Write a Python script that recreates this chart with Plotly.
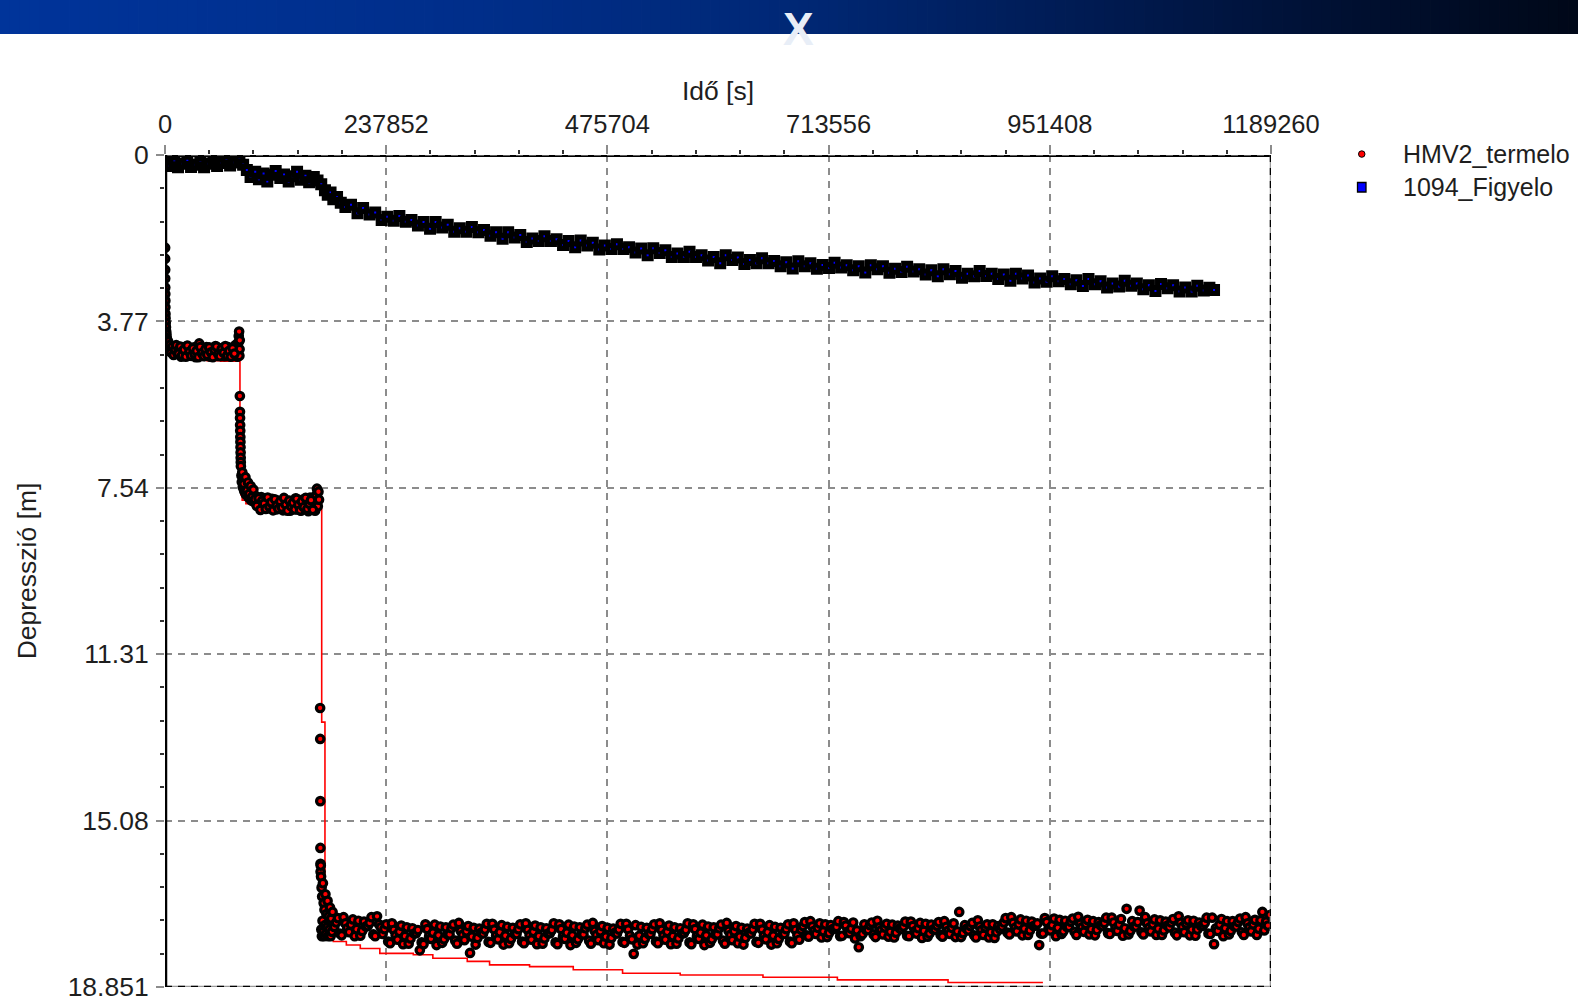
import plotly.graph_objects as go

# ---------------- axes ----------------
X_MAX = 1189260
Y_MAX = 18.851
x_tick_vals = [0, 237852, 475704, 713556, 951408, 1189260]
y_tick_vals = [0, 3.77, 7.54, 11.31, 15.08, 18.851]
y_tick_text = ["0", "3.77", "7.54", "11.31", "15.08", "18.851"]
series_names = ["HMV2_termelo", "1094_Figyelo"]

# ---------------- 1094_Figyelo (observation well) ----------------
# time in ks, drawdown in m
obs_t_ks = [
    0, 0.3, 0.8, 1.5, 3,
    5, 10, 14, 19, 24, 28, 33, 38, 42, 47, 52, 56, 61, 66, 70, 75, 80, 84,
    88, 92, 97, 101, 106, 110, 115, 119, 124, 128, 133, 137, 142, 146, 151, 155, 160, 164, 168,
    172, 175, 178, 181, 185, 189,
    194, 200, 207, 213, 220, 226, 233, 239, 246, 252, 259, 265, 272, 278, 285, 291,
    298, 304, 311, 317, 324, 330, 337, 343, 350, 356, 363, 369, 376, 382, 389, 395,
    402, 408, 415, 421, 428, 434, 441, 447, 454, 460, 467, 473, 480, 486, 493, 499,
    506, 512, 519, 525, 532, 538, 545, 551, 558, 564, 571, 577, 584, 590, 597,
    603, 610, 616, 623, 629, 636, 642, 649, 655, 662, 668, 675, 681, 688, 694, 701,
    707, 714, 720, 727, 733, 740, 746, 753, 759, 766, 772, 779, 785, 792, 798,
    805, 811, 818, 824, 831, 837, 844, 850, 857, 863, 870, 876, 883, 889, 896,
    902, 909, 915, 922, 928, 935, 941, 948, 954, 961, 967, 974, 980, 987, 993,
    1000, 1006, 1013, 1019, 1026, 1032, 1039, 1045, 1052, 1058, 1065, 1071, 1078,
    1084, 1091, 1097, 1104, 1110, 1117, 1123, 1128,
]
obs_depth = [
    0.00, 0.06, 0.12, 0.16, 0.18,
    0.25, 0.15, 0.28, 0.20, 0.13, 0.27, 0.22, 0.16, 0.28, 0.20, 0.14, 0.25, 0.18, 0.12, 0.24, 0.17, 0.11, 0.22,
    0.34, 0.50, 0.38, 0.55, 0.42, 0.60, 0.45, 0.36, 0.52, 0.44, 0.60, 0.48, 0.38, 0.56, 0.47, 0.62, 0.50, 0.58, 0.66,
    0.80, 0.90, 0.85, 1.00, 0.95, 1.08,
    1.18, 1.13, 1.32, 1.20, 1.35, 1.30, 1.47, 1.40, 1.49, 1.38, 1.51, 1.47, 1.60, 1.52, 1.67, 1.52,
    1.64, 1.58, 1.74, 1.66, 1.74, 1.63, 1.75, 1.70, 1.83, 1.75, 1.90, 1.75, 1.87, 1.81, 1.97, 1.89,
    1.95, 1.84, 1.95, 1.91, 2.04, 1.95, 2.09, 1.94, 2.05, 1.99, 2.14, 2.05, 2.13, 2.02, 2.13, 2.09,
    2.21, 2.12, 2.27, 2.11, 2.22, 2.16, 2.31, 2.23, 2.31, 2.19, 2.31, 2.27, 2.39, 2.31, 2.45,
    2.27, 2.38, 2.32, 2.47, 2.38, 2.45, 2.34, 2.45, 2.40, 2.52, 2.43, 2.57, 2.41, 2.52, 2.45, 2.58,
    2.49, 2.56, 2.44, 2.55, 2.50, 2.61, 2.52, 2.66, 2.50, 2.59, 2.52, 2.67, 2.58, 2.65, 2.53,
    2.64, 2.59, 2.71, 2.61, 2.75, 2.59, 2.70, 2.63, 2.78, 2.69, 2.75, 2.63, 2.74, 2.69, 2.81,
    2.71, 2.85, 2.69, 2.80, 2.73, 2.89, 2.80, 2.87, 2.75, 2.86, 2.81, 2.93, 2.84, 2.97, 2.81,
    2.93, 2.86, 3.00, 2.91, 2.98, 2.85, 2.96, 2.91, 3.04, 2.95, 3.08, 2.92, 3.02,
    2.95, 3.09, 3.00, 3.09, 2.96, 3.07, 3.01, 3.06,
]

# ---------------- HMV2_termelo (pumped well) ----------------
# stage 1 pumping rate
prod_t_stage1 = [
    0.12, 0.15, 0.18, 0.20, 0.25, 0.30, 0.35, 0.40, 0.50, 0.60, 0.80,
    1.0, 1.3, 1.6, 2.0, 2.5, 3.0,
    3.4, 4.4, 5.3, 6.3, 7.8, 9.2, 10.7, 12.1, 13.6,
    15.5, 17.4, 19.4, 21.3, 23.3, 25.2, 27.1, 29.1, 31.0, 32.9, 34.9, 36.8, 38.8, 40.7, 42.6, 44.6,
    46.5, 48.5, 50.4, 52.3, 54.3, 56.2, 58.1, 60.1, 62.0, 64.0, 65.9, 67.8, 69.8, 71.7, 73.6, 75.6,
    77.0, 78.0, 78.7, 79.3, 79.7, 80.0, 80.2, 80.4,
    14.6, 16.5, 18.4, 20.4, 22.3, 24.2, 26.2, 28.1, 30.0, 32.0, 33.9, 35.8, 37.8, 39.7, 41.7, 43.6,
    45.5, 47.5, 49.4, 51.4, 53.3, 55.2, 57.2, 59.1, 61.0, 63.0, 64.9, 66.8, 68.8, 70.7, 72.7, 74.6,
]
prod_d_stage1 = [
    2.1, 2.35, 2.6, 2.8, 3.0, 3.15, 3.3, 3.45, 3.6, 3.7, 3.8,
    3.9, 4.0, 4.07, 4.15, 4.2, 4.24,
    4.23, 4.40, 4.30, 4.47, 4.35, 4.53, 4.41, 4.31, 4.50,
    4.42, 4.57, 4.37, 4.48, 4.33, 4.55, 4.43, 4.50, 4.36, 4.58, 4.45, 4.27, 4.52, 4.40, 4.55, 4.35,
    4.47, 4.57, 4.39, 4.50, 4.33, 4.55, 4.42, 4.51, 4.37, 4.56, 4.45, 4.35, 4.53, 4.40, 4.55, 4.31,
    4.47, 4.57, 4.25, 4.10, 4.00, 4.55, 4.40, 4.20,
    4.50, 4.34, 4.54, 4.41, 4.57, 4.32, 4.46, 4.55, 4.38, 4.52, 4.44, 4.58, 4.35, 4.49, 4.56, 4.40,
    4.53, 4.36, 4.47, 4.58, 4.42, 4.34, 4.51, 4.56, 4.39, 4.48, 4.33, 4.55, 4.44, 4.57, 4.38, 4.50,
]

# stage 2 pumping rate
prod_t_stage2 = [
    80.5, 80.6, 80.7, 80.8, 80.9, 81.0, 81.1, 81.2, 81.3, 81.4, 81.5, 81.6,
    82.2, 82.6, 83.1, 83.6, 84.1, 85.1, 86.0, 87.0, 88.5, 89.9, 91.4, 92.9, 94.3, 95.8,
    97.7, 99.6, 101.6, 103.5, 105.5, 107.4, 109.4, 111.3, 113.2, 115.2, 117.1, 119.1, 121.0,
    123.0, 124.9, 126.9, 128.8, 130.7, 132.7, 134.6, 136.6, 138.5, 140.5, 142.4, 144.3, 146.3,
    148.2, 150.2, 152.1, 154.1, 156.0, 158.0, 159.9,
    161.4, 162.4, 163.4, 164.3, 165.0, 165.6,
    84.6, 86.5, 88.0, 89.2, 90.6, 92.1, 93.6, 95.0, 96.7,
    98.7, 100.6, 102.6, 104.5, 106.5, 108.4, 110.4, 112.3, 114.2, 116.2, 118.1, 120.1, 122.0,
    124.0, 125.9, 127.9, 129.8, 131.7, 133.7, 135.6, 137.6, 139.5, 141.5, 143.4, 145.3, 147.3,
    149.2, 151.2, 153.1, 155.1, 157.0, 159.0,
]
prod_d_stage2 = [
    5.46, 5.82, 5.96, 6.12, 6.25, 6.39, 6.50, 6.62, 6.74, 6.86, 6.96, 7.05,
    7.26, 7.41, 7.19, 7.53, 7.36, 7.61, 7.46, 7.69, 7.53, 7.76, 7.61, 7.83, 7.69, 7.86,
    7.73, 7.93, 7.79, 7.75, 7.96, 7.81, 7.99, 7.86, 8.01, 7.79, 7.93, 8.03, 7.83,
    7.97, 7.89, 8.05, 7.81, 7.99, 7.91, 8.06, 7.84, 8.01, 7.78, 8.03, 7.89, 8.06,
    7.81, 8.01, 7.86, 8.07, 7.76, 7.99, 7.86,
    8.06, 7.71, 7.56, 7.96, 7.63, 7.81,
    7.45, 7.30, 7.60, 7.42, 7.68, 7.50, 7.75, 7.58, 7.80,
    7.95, 7.78, 8.04, 7.84, 7.90, 8.02, 7.76, 7.97, 7.87, 8.05, 7.80, 7.94, 8.02,
    7.85, 7.99, 7.77, 7.92, 8.06, 7.83, 7.96, 7.88, 8.03, 7.79, 7.93, 8.05, 7.85,
    7.98, 7.77, 8.02, 7.90, 7.82, 8.04,
]

# stage 3 pumping rate: fall of the level
prod_t_stage3_early = [
    166.8, 166.9, 167.0, 167.1, 167.2, 167.3, 167.5,
    167.8, 168.1, 168.4, 168.7, 169.0, 169.4, 169.8, 170.2, 170.6, 171.0, 171.5, 172.0, 172.5,
    173.0, 173.6, 174.2, 174.8, 175.4, 176.0, 176.7, 177.4, 178.1, 178.8, 179.5, 180.2,
]
prod_d_stage3_early = [
    12.53, 13.23, 14.64, 15.70, 16.06, 16.24, 16.10,
    16.35, 17.55, 16.60, 17.70, 16.80, 17.35, 16.50, 17.60, 16.95, 17.70, 17.10, 17.45, 16.75,
    17.65, 17.20, 17.50, 16.90, 17.70, 17.25, 17.55, 17.05, 17.70, 17.30, 17.60, 17.15,
]

# stage 3 pumping rate: quasi-steady part
prod_t_stage3 = [
    182, 184, 186, 188, 190, 192, 194, 196, 198, 200, 202, 204, 206, 208, 210, 212, 214, 216,
    218, 220, 222, 224, 226, 228, 230, 232,
    234, 236, 238, 240, 242, 244, 246, 248, 250, 252, 254, 256, 258, 260, 262, 264, 266, 268,
    270, 272, 274, 276, 278, 280, 282, 284, 286, 288, 290, 292, 294, 296, 298, 300, 302, 304,
    306, 308, 310, 312, 314, 316, 318, 320, 322, 324, 326, 328, 330, 332, 334, 336, 338, 340,
    342, 344, 346, 348, 350, 352, 354, 356, 358, 360, 362, 364, 366, 368, 370, 372, 374, 376,
    378, 380, 382, 384, 386, 388, 390, 392, 394, 396, 398, 400, 402, 404, 406, 408, 410, 412,
    414, 416, 418, 420, 422, 424, 426, 428, 430, 432, 434, 436, 438, 440, 442, 444, 446, 448,
    450, 452, 454, 456, 458, 460, 462, 464, 466, 468, 470, 472, 474, 476, 478, 480, 482, 484,
    486, 488, 490, 492, 494, 496, 498, 500, 502, 504, 506, 508, 510, 512, 514, 516, 518, 520,
    522, 524, 526, 528, 530, 532, 534, 536, 538, 540, 542, 544, 546, 548, 550, 552, 554, 556,
    558, 560, 562, 564, 566, 568, 570, 572, 574, 576, 578, 580, 582, 584, 586, 588, 590, 592,
    594, 596, 598, 600, 602, 604, 606, 608, 610, 612, 614, 616, 618, 620, 622, 624, 626, 628,
    630, 632, 634, 636, 638, 640, 642, 644, 646, 648, 650, 652, 654, 656, 658, 660, 662, 664,
    666, 668, 670, 672, 674, 676, 678, 680, 682,
    684, 686, 688, 690, 692, 694, 696, 698, 700, 702, 704, 706, 708, 710, 712, 714, 716, 718,
    720, 722, 724, 726, 728, 730, 732, 734, 736, 738, 740, 742, 744, 746, 748, 750, 752, 754,
    756, 758, 760, 762, 764, 766, 768, 770, 772, 774, 776, 778, 780, 782, 784, 786, 788, 790,
    792, 794, 796, 798, 800, 802, 804, 806, 808, 810, 812, 814, 816, 818, 820, 822, 824, 826,
    828, 830, 832, 834, 836, 838, 840, 842, 844, 846, 848, 850, 852, 854, 856, 858, 860, 862,
    864, 866, 868, 870, 872, 874, 876, 878, 880, 882, 884, 886, 888, 890, 892, 894, 896, 898,
    900, 902, 904, 906, 908, 910, 912, 914, 916, 918, 920, 922, 924, 926, 928, 930, 932, 934,
    936, 938, 940, 942, 944, 946, 948, 950, 952, 954, 956, 958, 960, 962, 964, 966, 968, 970,
    972, 974, 976, 978, 980, 982, 984, 986, 988, 990, 992, 994, 996, 998, 1000, 1002, 1004, 1006,
    1008, 1010, 1012, 1014, 1016, 1018, 1020, 1022, 1024, 1026, 1028, 1030, 1032, 1034, 1036, 1038, 1040, 1042,
    1044, 1046, 1048, 1050, 1052, 1054, 1056, 1058, 1060, 1062, 1064, 1066, 1068, 1070, 1072, 1074, 1076, 1078,
    1080, 1082, 1084, 1086, 1088, 1090, 1092, 1094, 1096, 1098, 1100, 1102, 1104, 1106, 1108, 1110, 1112, 1114,
    1116, 1118, 1120, 1122, 1124, 1126, 1128, 1130, 1132, 1134, 1136, 1138, 1140, 1142, 1144, 1146, 1148, 1150,
    1152, 1154, 1156, 1158, 1160, 1162, 1164, 1166, 1168, 1170, 1172, 1174, 1176, 1178, 1180, 1182, 1184, 1186,
    1188,
]
prod_d_stage3 = [
    17.49, 17.39, 17.29, 17.64, 17.68, 17.27, 17.41, 17.52, 17.61, 17.44, 17.32, 17.70, 17.54, 17.35, 17.69, 17.58, 17.37, 17.48,
    17.47, 17.40, 17.27, 17.66, 17.70, 17.25, 17.43, 17.50,
    17.65, 17.54, 17.43, 17.82, 17.86, 17.41, 17.56, 17.68, 17.78, 17.60, 17.46, 17.88, 17.70, 17.50, 17.87, 17.75, 17.52, 17.64,
    17.63, 17.56, 18.02, 17.84, 17.88, 17.43, 17.54, 17.70, 17.76, 17.62, 17.44, 17.90, 17.68, 17.48, 17.85, 17.77, 17.50, 17.66,
    17.66, 17.52, 17.44, 17.80, 17.87, 17.40, 17.58, 17.67, 17.79, 17.59, 17.47, 18.08, 17.71, 17.51, 17.89, 17.74, 17.53, 17.62,
    17.64, 17.55, 17.42, 17.83, 17.85, 17.42, 17.55, 17.69, 17.77, 17.61, 17.45, 17.89, 17.69, 17.49, 17.86, 17.76, 17.51, 17.65,
    17.65, 17.54, 17.43, 17.82, 17.86, 17.41, 17.56, 17.68, 17.78, 17.60, 17.46, 17.88, 17.70, 17.50, 17.87, 17.75, 17.52, 17.64,
    17.63, 17.56, 17.41, 17.84, 17.88, 17.43, 17.54, 17.70, 17.76, 17.62, 17.44, 17.90, 17.68, 17.48, 17.85, 17.77, 17.50, 17.66,
    17.66, 17.52, 17.44, 17.80, 17.87, 17.40, 17.58, 17.67, 17.79, 17.59, 17.47, 17.86, 17.71, 17.51, 17.89, 17.74, 17.53, 17.62,
    17.64, 17.55, 17.42, 17.83, 17.85, 17.42, 17.55, 17.69, 17.77, 18.10, 17.45, 17.89, 17.69, 17.49, 17.86, 17.76, 17.51, 17.65,
    17.65, 17.54, 17.43, 17.82, 17.86, 17.41, 17.56, 17.68, 17.78, 17.60, 17.46, 17.88, 17.70, 17.50, 17.87, 17.75, 17.52, 17.64,
    17.63, 17.56, 17.41, 17.84, 17.88, 17.43, 17.54, 17.70, 17.76, 17.62, 17.44, 17.90, 17.68, 17.48, 17.85, 17.77, 17.50, 17.66,
    17.66, 17.52, 17.44, 17.80, 17.87, 17.40, 17.58, 17.67, 17.79, 17.59, 17.47, 17.86, 17.71, 17.51, 17.89, 17.74, 17.53, 17.62,
    17.64, 17.55, 17.42, 17.83, 17.85, 17.42, 17.55, 17.69, 17.77, 17.61, 17.45, 17.89, 17.69, 17.49, 17.86, 17.76, 17.51, 17.65,
    17.65, 17.54, 17.43, 17.82, 17.86, 17.41, 17.56, 17.68, 17.78,
    17.55, 17.47, 17.38, 17.68, 17.71, 17.36, 17.48, 17.58, 17.65, 17.51, 17.41, 17.73, 17.59, 17.43, 17.72, 17.63, 17.45, 17.54,
    17.53, 17.49, 17.36, 17.70, 17.69, 17.38, 17.46, 17.60, 17.63, 17.53, 17.39, 17.75, 17.57, 17.95, 17.70, 17.65, 17.43, 17.56,
    17.56, 17.45, 17.39, 17.66, 17.72, 17.35, 17.50, 17.57, 17.66, 17.50, 17.42, 17.71, 17.60, 17.44, 17.73, 17.62, 17.46, 17.52,
    17.54, 17.48, 17.37, 17.69, 17.70, 17.37, 17.47, 17.59, 17.64, 17.52, 17.40, 17.74, 17.58, 17.42, 17.71, 17.64, 17.44, 17.55,
    17.55, 17.46, 17.38, 17.67, 17.71, 17.36, 17.49, 17.58, 17.65, 17.51, 17.41, 17.72, 17.59, 17.15, 17.72, 17.63, 17.45, 17.53,
    17.57, 17.47, 17.40, 17.68, 17.73, 17.34, 17.48, 17.56, 17.67, 17.50, 17.43, 17.73, 17.61, 17.43, 17.74, 17.61, 17.47, 17.54,
    17.48, 17.39, 17.29, 17.62, 17.66, 17.27, 17.40, 17.51, 17.59, 17.43, 17.32, 17.68, 17.53, 17.35, 17.67, 17.57, 17.37, 17.47,
    17.46, 17.41, 17.90, 17.64, 17.64, 17.29, 17.38, 17.53, 17.57, 17.45, 17.30, 17.70, 17.51, 17.33, 17.65, 17.59, 17.35, 17.49,
    17.49, 17.37, 17.30, 17.60, 17.67, 17.26, 17.42, 17.50, 17.60, 17.42, 17.33, 17.66, 17.54, 17.36, 17.68, 17.56, 17.38, 17.45,
    17.47, 17.40, 17.28, 17.63, 17.65, 17.28, 17.39, 17.52, 17.58, 17.44, 17.31, 17.69, 17.52, 17.08, 17.66, 17.58, 17.36, 17.48,
    17.48, 17.38, 17.12, 17.61, 17.66, 17.27, 17.41, 17.51, 17.59, 17.43, 17.32, 17.67, 17.53, 17.34, 17.67, 17.57, 17.37, 17.46,
    17.50, 17.39, 17.31, 17.62, 17.68, 17.25, 17.40, 17.49, 17.61, 17.41, 17.34, 17.68, 17.55, 17.35, 17.69, 17.55, 17.39, 17.47,
    17.46, 17.40, 17.28, 17.64, 17.65, 17.28, 17.88, 17.52, 17.58, 17.44, 17.31, 17.70, 17.52, 17.36, 17.66, 17.58, 17.36, 17.48,
    17.48, 17.38, 17.30, 17.61, 17.67, 17.27, 17.41, 17.50, 17.59, 17.43, 17.33, 17.67, 17.53, 17.34, 17.15, 17.57, 17.37, 17.46,
    17.22,
]

# fitted drawdown curve of the pumped well (stepped output of the model)
model_t_ks = [
    0, 0.05, 0.1, 0.2, 0.4, 0.8, 1.5, 3, 6, 12,
    25, 45, 60, 80.6, 81.6, 83, 87, 97, 117, 147,
    168.5, 172, 174, 177, 181, 195, 210, 231, 267, 288,
    325, 349, 392, 439, 492, 554, 643, 723, 842, 944,
]
model_depth = [
    0, 1.5, 2.6, 3.3, 3.75, 4.05, 4.25, 4.4, 4.5, 4.57,
    4.63, 4.66, 4.67, 7.5, 7.7, 7.82, 7.9, 7.95, 7.99, 8.03,
    12.85, 16.7, 17.2, 17.45, 17.82, 17.9, 17.98, 18.09, 18.12, 18.2,
    18.27, 18.35, 18.39, 18.46, 18.54, 18.58, 18.63, 18.69, 18.75, 18.75,
]

assert len(obs_t_ks) == len(obs_depth)
assert len(prod_t_stage1) == len(prod_d_stage1)
assert len(prod_t_stage2) == len(prod_d_stage2)
assert len(prod_t_stage3_early) == len(prod_d_stage3_early)
assert len(prod_t_stage3) == len(prod_d_stage3)
assert len(model_t_ks) == len(model_depth)

prod_t = [t * 1000 for t in prod_t_stage1 + prod_t_stage2 + prod_t_stage3_early + prod_t_stage3]
prod_d = prod_d_stage1 + prod_d_stage2 + prod_d_stage3_early + prod_d_stage3
obs_t = [t * 1000 for t in obs_t_ks]
model_t = [t * 1000 for t in model_t_ks]

FONT = "Liberation Sans, Arial, sans-serif"
TEXT_COLOR = "#1e1e1e"
GRID_COLOR = "#8c8c8c"

# plot-area placement in pixels
L, R, T, B = 165, 1271, 155, 987

fig = go.Figure()
fig.add_trace(go.Scatter(
    x=model_t, y=model_depth, mode="lines",
    line=dict(color="#ff0000", width=1.6, shape="hv"),
    showlegend=False, hoverinfo="skip",
))
fig.add_trace(go.Scatter(
    x=prod_t, y=prod_d, mode="markers", name=series_names[0], showlegend=False,
    marker=dict(symbol="circle", size=7.5, color="#ff0000",
                line=dict(color="#000000", width=3.2)),
))
fig.add_trace(go.Scatter(
    x=obs_t, y=obs_depth, mode="markers", name=series_names[1], showlegend=False,
    marker=dict(symbol="square", size=7, color="#0000ff",
                line=dict(color="#000000", width=5)),
))

# minor tick positions: five subdivisions per major interval
x_step = x_tick_vals[1] / 5
x_minor = [x_tick_vals[i] + k * x_step for i in range(len(x_tick_vals) - 1) for k in range(1, 5)]
y_step = y_tick_vals[1] / 5
y_minor = [y_tick_vals[i] + k * y_step for i in range(len(y_tick_vals) - 1) for k in range(1, 5)]

fig.update_layout(
    width=1578, height=1001,
    margin=dict(l=L, r=1578 - R, t=T, b=1001 - B, pad=0),
    paper_bgcolor="white", plot_bgcolor="white",
    font=dict(family=FONT, size=25, color=TEXT_COLOR),
    showlegend=False,
    xaxis=dict(
        side="top", range=[0, X_MAX], automargin=False,
        tickmode="array", tickvals=x_tick_vals, ticktext=[str(v) for v in x_tick_vals],
        tickfont=dict(family=FONT, size=25.5, color=TEXT_COLOR),
        ticks="outside", ticklen=9, tickwidth=2, tickcolor=GRID_COLOR, ticklabelstandoff=2,
        ticklabeloverflow="allow",
        showgrid=True, gridcolor=GRID_COLOR, gridwidth=2, griddash="7px,6px",
        minor=dict(tickmode="array", tickvals=x_minor, ticks="outside", ticklen=4,
                   tickwidth=1.5, tickcolor="#333333", showgrid=False),
        zeroline=False, showline=False,
        title=dict(text="Idő [s]", font=dict(family=FONT, size=26.5, color=TEXT_COLOR), standoff=1),
    ),
    yaxis=dict(
        range=[Y_MAX, 0], automargin=False,
        tickmode="array", tickvals=y_tick_vals, ticktext=y_tick_text,
        tickfont=dict(family=FONT, size=26.5, color=TEXT_COLOR),
        ticks="outside", ticklen=8, tickwidth=2, tickcolor=GRID_COLOR, ticklabelstandoff=2,
        ticklabeloverflow="allow",
        showgrid=True, gridcolor=GRID_COLOR, gridwidth=2, griddash="7px,6px",
        minor=dict(tickmode="array", tickvals=y_minor, ticks="outside", ticklen=4,
                   tickwidth=1.5, tickcolor="#333333", showgrid=False),
        zeroline=False, showline=False,
        title=dict(text="Depresszió [m]", font=dict(family=FONT, size=26.5, color=TEXT_COLOR), standoff=23),
    ),
)

def px_x(px):
    return (px - L) / (R - L)

def px_y(py):
    return (B - py) / (B - T)

# frame of the plot area
shapes = [
    dict(type="line", xref="x", yref="y", x0=0, x1=X_MAX, y0=0, y1=0,
         line=dict(color="#000000", width=4), layer="above"),
    dict(type="line", xref="x", yref="y", x0=0, x1=X_MAX, y0=0, y1=0,
         line=dict(color="#7a7a7a", width=1.5, dash="7px,6px"), layer="above"),
    dict(type="line", xref="x", yref="y", x0=X_MAX, x1=X_MAX, y0=0, y1=Y_MAX,
         line=dict(color="#9a9a9a", width=2.5), layer="above"),
    dict(type="line", xref="x", yref="y", x0=X_MAX, x1=X_MAX, y0=0, y1=Y_MAX,
         line=dict(color="#000000", width=2.5, dash="7px,6px"), layer="above"),
    dict(type="line", xref="x", yref="y", x0=0, x1=X_MAX, y0=Y_MAX, y1=Y_MAX,
         line=dict(color="#9a9a9a", width=2.5), layer="above"),
    dict(type="line", xref="x", yref="y", x0=0, x1=X_MAX, y0=Y_MAX, y1=Y_MAX,
         line=dict(color="#000000", width=2.5, dash="7px,6px"), layer="above"),
    dict(type="line", xref="x", yref="y", x0=0, x1=0, y0=0, y1=Y_MAX,
         line=dict(color="#000000", width=4.5), layer="above"),
]

# legend: symbol + label per series
legend_rows = [154, 187]
shapes.append(dict(type="circle", xref="paper", yref="paper",
                   x0=px_x(1358.5), x1=px_x(1365.0), y0=px_y(157.3), y1=px_y(150.8),
                   fillcolor="#ff0000", line=dict(color="#000000", width=1)))
shapes.append(dict(type="rect", xref="paper", yref="paper",
                   x0=px_x(1357.5), x1=px_x(1366.0), y0=px_y(192.0), y1=px_y(182.5),
                   fillcolor="#0000ff", line=dict(color="#000000", width=1.3)))
for name, row in zip(series_names, legend_rows):
    fig.add_annotation(
        xref="paper", yref="paper", x=px_x(1401), y=px_y(row),
        xanchor="left", yanchor="middle", showarrow=False,
        text=name, font=dict(family=FONT, size=25, color=TEXT_COLOR),
    )

# gradient banner across the top of the page
stops = [(0.0, (0, 52, 154)), (0.3, (0, 46, 138)), (0.5, (0, 40, 118)),
         (0.7, (0, 26, 80)), (0.85, (0, 16, 50)), (1.0, (0, 8, 24))]

def band_color(f):
    for (f0, c0), (f1, c1) in zip(stops[:-1], stops[1:]):
        if f0 <= f <= f1:
            a = (f - f0) / (f1 - f0)
            return "rgb(%d,%d,%d)" % tuple(round(c0[i] + a * (c1[i] - c0[i])) for i in range(3))
    return "rgb(%d,%d,%d)" % stops[-1][1]

n_strips = 160
strip_w = 1578 / n_strips
for i in range(n_strips):
    shapes.append(dict(
        type="rect", xref="paper", yref="paper",
        x0=px_x(i * strip_w), x1=px_x((i + 1) * strip_w + 0.8),
        y0=px_y(34), y1=px_y(0) + 0.01,
        line=dict(width=0), fillcolor=band_color((i + 0.5) / n_strips), layer="above",
    ))
fig.update_layout(shapes=shapes)

fig.add_annotation(
    xref="paper", yref="paper", x=px_x(798.5), y=px_y(29),
    xanchor="center", yanchor="middle", showarrow=False,
    text="<b>X</b>", font=dict(family=FONT, size=46, color="#e8eef7"),
)

fig.write_html("out.html")
